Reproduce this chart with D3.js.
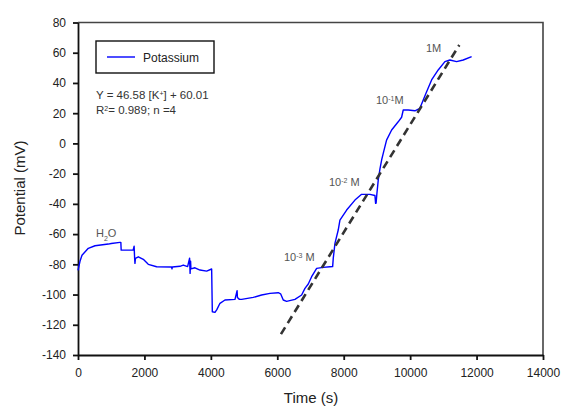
<!DOCTYPE html>
<html>
<head>
<meta charset="utf-8">
<script src="https://cdn.jsdelivr.net/npm/d3@7/dist/d3.min.js"></script>
<style>
  body { margin: 0; background: #fff; }
  svg { font-family: "Liberation Sans", Arial, sans-serif; }
</style>
</head>
<body>
<svg class="chart"></svg>
<script>
// potassium electrode trace
var timeS = [0, 60, 120, 310, 512, 913, 1000, 1264, 1290, 1300, 1660, 1690, 1705, 1715, 1730,
  1816, 1966, 2116, 2368, 2820, 2830, 2840, 3070, 3170, 3300, 3360, 3375, 3390, 3400,
  3522, 3672, 3873, 4024, 4044, 4124, 4180, 4274, 4425, 4726, 4790, 4800, 4860, 4927,
  5277, 5528, 5779, 6029, 6100, 6180, 6281, 6532, 6733, 6833, 6933, 7034, 7185, 7384,
  7585, 7667, 7685, 7736, 7835, 7886, 8088, 8338, 8539, 8789, 8940, 8960, 8975, 9000,
  9040, 9090, 9141, 9190, 9290, 9443, 9641, 9743, 9792, 9942, 10144, 10294, 10394,
  10496, 10646, 10845, 11047, 11197, 11399, 11598, 11851];
var potentialMV = [-84, -78, -74, -69.4, -67.7, -66.6, -66.2, -65.5, -65.5, -70.6, -70.6, -68, -76, -79.4, -76,
  -75, -76.7, -80, -81.6, -81.8, -83, -81.8, -81.3, -80.5, -81.5, -76, -86, -78, -83,
  -82.3, -83.8, -84.5, -83.1, -111.4, -111.8, -110, -105.8, -103.6, -103.2, -97.5, -102, -103.2, -103.2,
  -101.9, -100.3, -99.2, -98.8, -99.5, -103.6, -104.5, -103.2, -100.3, -95.9, -93, -88.2, -82.7, -82,
  -81.6, -81.5, -76.1, -66.1, -57.3, -50.7, -44.1, -37.5, -33.7, -33.7, -34.5, -39.7, -39.5, -33,
  -24.2, -17, -11, -6.6, 2.2, 8.9, 14.3, 17.3, 22.1, 22.1, 21.6, 23.2, 28.7,
  34.2, 42, 48.6, 54.1, 55.2, 54.1, 55.2, 57.4];

// calibration fit line (dashed)
var fitTime = [6110, 11480];
var fitMV = [-126.2, 65.1];

var xTicks = [0, 2000, 4000, 6000, 8000, 10000, 12000, 14000];
var yTicks = [-140, -120, -100, -80, -60, -40, -20, 0, 20, 40, 60, 80];

var width = 563;
var height = 408;
var margin = {top: 22.5, right: 20, bottom: 53, left: 78};

var chart = d3.select(".chart").attr("width", width).attr("height", height);

var x = d3.scaleLinear().domain([0, 14000]).range([margin.left, width - margin.right]);
var y = d3.scaleLinear().domain([-140, 80]).range([height - margin.bottom, margin.top]);

// frame top + right
chart.append("path")
  .attr("d", "M" + x(0) + "," + y(80) + "H" + x(14000) + "V" + y(-140))
  .attr("fill", "none")
  .attr("stroke", "#444")
  .attr("stroke-width", 1.6);

// plain labels, hyphen minus, no thousands comma
var plain = function(d) { return String(d); };
var xAxis = d3.axisBottom(x).tickValues(xTicks).tickFormat(plain).tickSize(5).tickPadding(8).tickSizeOuter(0);
var yAxis = d3.axisLeft(y).tickValues(yTicks).tickFormat(plain).tickSize(5).tickPadding(7).tickSizeOuter(0);

var gx = chart.append("g")
  .attr("transform", "translate(0," + y(-140) + ")")
  .call(xAxis);
var gy = chart.append("g")
  .attr("transform", "translate(" + x(0) + ",0)")
  .call(yAxis);

[gx, gy].forEach(function(g) {
  g.selectAll("path, line").attr("stroke", "#111").attr("stroke-width", 1.8);
  g.selectAll("text").attr("font-size", 12).attr("fill", "#222")
    .attr("font-family", "Liberation Sans, Arial, sans-serif");
});

// data line
var line = d3.line().x(function(d, i) { return x(timeS[i]); }).y(function(d) { return y(d); });
chart.append("path")
  .attr("d", line(potentialMV))
  .attr("fill", "none")
  .attr("stroke", "#0000ff")
  .attr("stroke-width", 1.4)
  .attr("stroke-linejoin", "round");

// fit line
var fitLine = d3.line().x(function(d, i) { return x(fitTime[i]); }).y(function(d) { return y(d); });
chart.append("path")
  .attr("d", fitLine(fitMV))
  .attr("fill", "none")
  .attr("stroke", "#333")
  .attr("stroke-width", 2.6)
  .attr("stroke-dasharray", "8,5");

// legend
chart.append("rect")
  .attr("x", 96).attr("y", 41).attr("width", 118).attr("height", 32)
  .attr("fill", "#fff").attr("stroke", "#111").attr("stroke-width", 1.4);
chart.append("line")
  .attr("x1", 107).attr("x2", 135).attr("y1", 57).attr("y2", 57)
  .attr("stroke", "#0000ff").attr("stroke-width", 1.4);
chart.append("text")
  .attr("x", 143).attr("y", 61.5)
  .attr("font-size", 12).attr("fill", "#222")
  .text("Potassium");

// equation text
var eq = chart.append("text").attr("x", 96).attr("y", 99).attr("font-size", 11.5).attr("fill", "#333");
eq.append("tspan").text("Y = 46.58 [K");
eq.append("tspan").attr("baseline-shift", "super").attr("font-size", 7).text("+");
eq.append("tspan").text("] + 60.01");
var r2 = chart.append("text").attr("x", 96).attr("y", 114).attr("font-size", 11.5).attr("fill", "#333");
r2.append("tspan").text("R");
r2.append("tspan").attr("baseline-shift", "super").attr("font-size", 7).text("2");
r2.append("tspan").text("= 0.989; n =4");

// annotations
function note(px, py, parts) {
  var t = chart.append("text").attr("x", px).attr("y", py).attr("font-size", 11).attr("fill", "#555");
  parts.forEach(function(p) {
    var s = t.append("tspan").text(p[0]);
    if (p[1] == "sup") s.attr("baseline-shift", "super").attr("font-size", 7);
    if (p[1] == "sub") s.attr("baseline-shift", "sub").attr("font-size", 7);
  });
}
note(96, 237, [["H"], ["2", "sub"], ["O"]]);
note(284, 261, [["10"], ["-3", "sup"], [" M"]]);
note(329, 186, [["10"], ["-2", "sup"], [" M"]]);
note(376, 104, [["10"], ["-1", "sup"], ["M"]]);
note(426, 52, [["1M"]]);

// axis titles
chart.append("text")
  .attr("x", 311).attr("y", 403)
  .attr("text-anchor", "middle")
  .attr("font-size", 15).attr("fill", "#222")
  .text("Time (s)");
chart.append("text")
  .attr("transform", "translate(25,188) rotate(-90)")
  .attr("text-anchor", "middle")
  .attr("font-size", 15).attr("fill", "#222")
  .text("Potential (mV)");
</script>
</body>
</html>
